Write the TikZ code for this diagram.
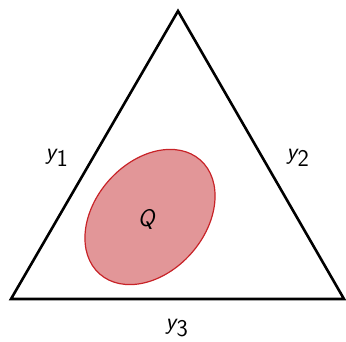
\documentclass[tikz,border=0pt]{standalone}
\begin{document}
\begin{tikzpicture}[x=1pt,y=-1pt,
  lbl/.style={font=\fontsize{24}{28}\selectfont\sffamily, inner sep=0pt},
  tri/.style={draw=black, line width=2.6pt, line join=miter},
  region/.style={draw={rgb,255:red,200;green,35;blue,40}, line width=1.2pt, fill={rgb,255:red,226;green,150;blue,152}}]
\useasboundingbox (0,0) rectangle (346,341);
\coordinate (A) at (178,11);
\coordinate (B) at (11,299);
\coordinate (C) at (344,299);
\draw[tri] (A) -- (B) -- (C) -- cycle;
\draw[region] (150,217) ellipse[x radius=76, y radius=55, rotate=48.5];
\node[lbl] (q) at (147,219) {\textit{Q}};
\node[lbl] (y1) at (57,158) {\textit{y}\kern-1pt$_{\textsf{1}}$};
\node[lbl] (y2) at (298,158) {\textit{y}\kern-1pt$_{\textsf{2}}$};
\node[lbl] (y3) at (177,328) {\textit{y}\kern-1pt$_{\textsf{3}}$};
\end{tikzpicture}
\end{document}
